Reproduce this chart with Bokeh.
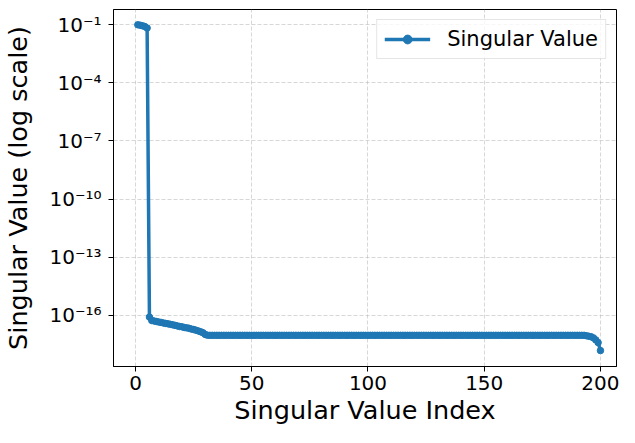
from bokeh.plotting import figure
from bokeh.models import (Range1d, FixedTicker, CustomJSTickFormatter, Legend, LegendItem,
                          ColumnDataSource)
from bokeh.embed import file_html
from bokeh.resources import INLINE

# ---- data ----
top_values = [0.097, 0.092, 0.086, 0.079, 0.066]
drop_value = [8.3e-17]
slope_values = [5.5e-17, 5.2e-17, 4.9e-17, 4.6e-17, 4.4e-17, 4.1e-17, 3.9e-17, 3.7e-17,
                3.5e-17, 3.3e-17, 3.1e-17, 2.9e-17, 2.7e-17, 2.6e-17, 2.4e-17, 2.3e-17,
                2.2e-17, 2.0e-17, 1.9e-17, 1.75e-17, 1.6e-17, 1.45e-17, 1.3e-17, 1.05e-17,
                9.6e-18]
flat_value = 9.5e-18
flat_count = 162
tail_values = [9.0e-18, 8.5e-18, 8.0e-18, 7.0e-18, 5.5e-18, 4.0e-18, 1.55e-18]

singular_values = top_values + drop_value + slope_values + [flat_value] * flat_count + tail_values
indices = list(range(1, len(singular_values) + 1))

xtick_values = [0, 50, 100, 150, 200]
ytick_exponents = [-1, -4, -7, -10, -13, -16]

series_label = "Singular Value"
x_label = "Singular Value Index"
y_label = "Singular Value (log scale)"

# ---- figure ----
FONT = "DejaVu Sans"
BLUE = "#1f77b4"

p = figure(width=619, height=427, output_backend="svg", toolbar_location=None,
           y_axis_type="log",
           x_range=Range1d(-9.46, 206.9),
           y_range=Range1d(10 ** -18.63, 10 ** -0.226),
           min_border_left=113, min_border_right=3, min_border_top=9, min_border_bottom=0)

src = ColumnDataSource(dict(x=indices, y=singular_values))
ln = p.line("x", "y", source=src, line_width=3.5, line_color=BLUE)
sc = p.scatter("x", "y", source=src, size=6.5, fill_color=BLUE, line_color=BLUE)

p.xaxis.ticker = FixedTicker(ticks=xtick_values)
p.yaxis.ticker = FixedTicker(ticks=[10.0 ** e for e in ytick_exponents])
p.yaxis.formatter = CustomJSTickFormatter(code="""
const e = Math.round(Math.log10(tick));
const sup = {"-":"\u207b","0":"\u2070","1":"\u00b9","2":"\u00b2","3":"\u00b3","4":"\u2074",
             "5":"\u2075","6":"\u2076","7":"\u2077","8":"\u2078","9":"\u2079"};
return "10" + String(e).split("").map(c => sup[c]).join("");
""")

for ax in (p.xaxis[0], p.yaxis[0]):
    ax.major_label_text_font = FONT
    ax.major_label_text_font_size = "20px"
    ax.major_label_text_color = "black"
    ax.axis_label_text_font = FONT
    ax.axis_label_text_font_size = "25.5px"
    ax.axis_label_text_font_style = "normal"
    ax.axis_label_text_color = "black"
    ax.axis_line_color = "black"
    ax.major_tick_line_color = "black"
    ax.major_tick_out = 5
    ax.major_tick_in = 0
    ax.minor_tick_line_color = None

p.xaxis.major_label_standoff = 4
p.yaxis.major_label_standoff = 7
p.xaxis.axis_label = x_label
p.yaxis.axis_label = y_label
p.xaxis.axis_label_standoff = 2
p.yaxis.axis_label_standoff = 13

p.outline_line_color = "black"
p.outline_line_width = 1
p.outline_line_alpha = 1

for g in (p.xgrid[0], p.ygrid[0]):
    g.grid_line_color = "#b0b0b0"
    g.grid_line_alpha = 0.5
    g.grid_line_dash = "4 2"
    g.grid_line_width = 1
p.xgrid.ticker = FixedTicker(ticks=xtick_values)
p.ygrid.ticker = FixedTicker(ticks=[10.0 ** e for e in ytick_exponents])

legend = Legend(items=[LegendItem(label=series_label, renderers=[ln, sc])],
                location="top_right")
legend.label_text_font = FONT
legend.label_text_font_size = "21px"
legend.label_text_color = "black"
legend.glyph_width = 46
legend.glyph_height = 22
legend.label_height = 22
legend.label_standoff = 17
legend.padding = 7
legend.margin = 10
legend.border_line_color = "#cccccc"
legend.border_line_width = 1
legend.background_fill_color = "white"
legend.background_fill_alpha = 0.8
p.add_layout(legend)

p.background_fill_color = "white"
p.border_fill_color = "white"

open("out.html", "w").write(file_html(p, INLINE))
